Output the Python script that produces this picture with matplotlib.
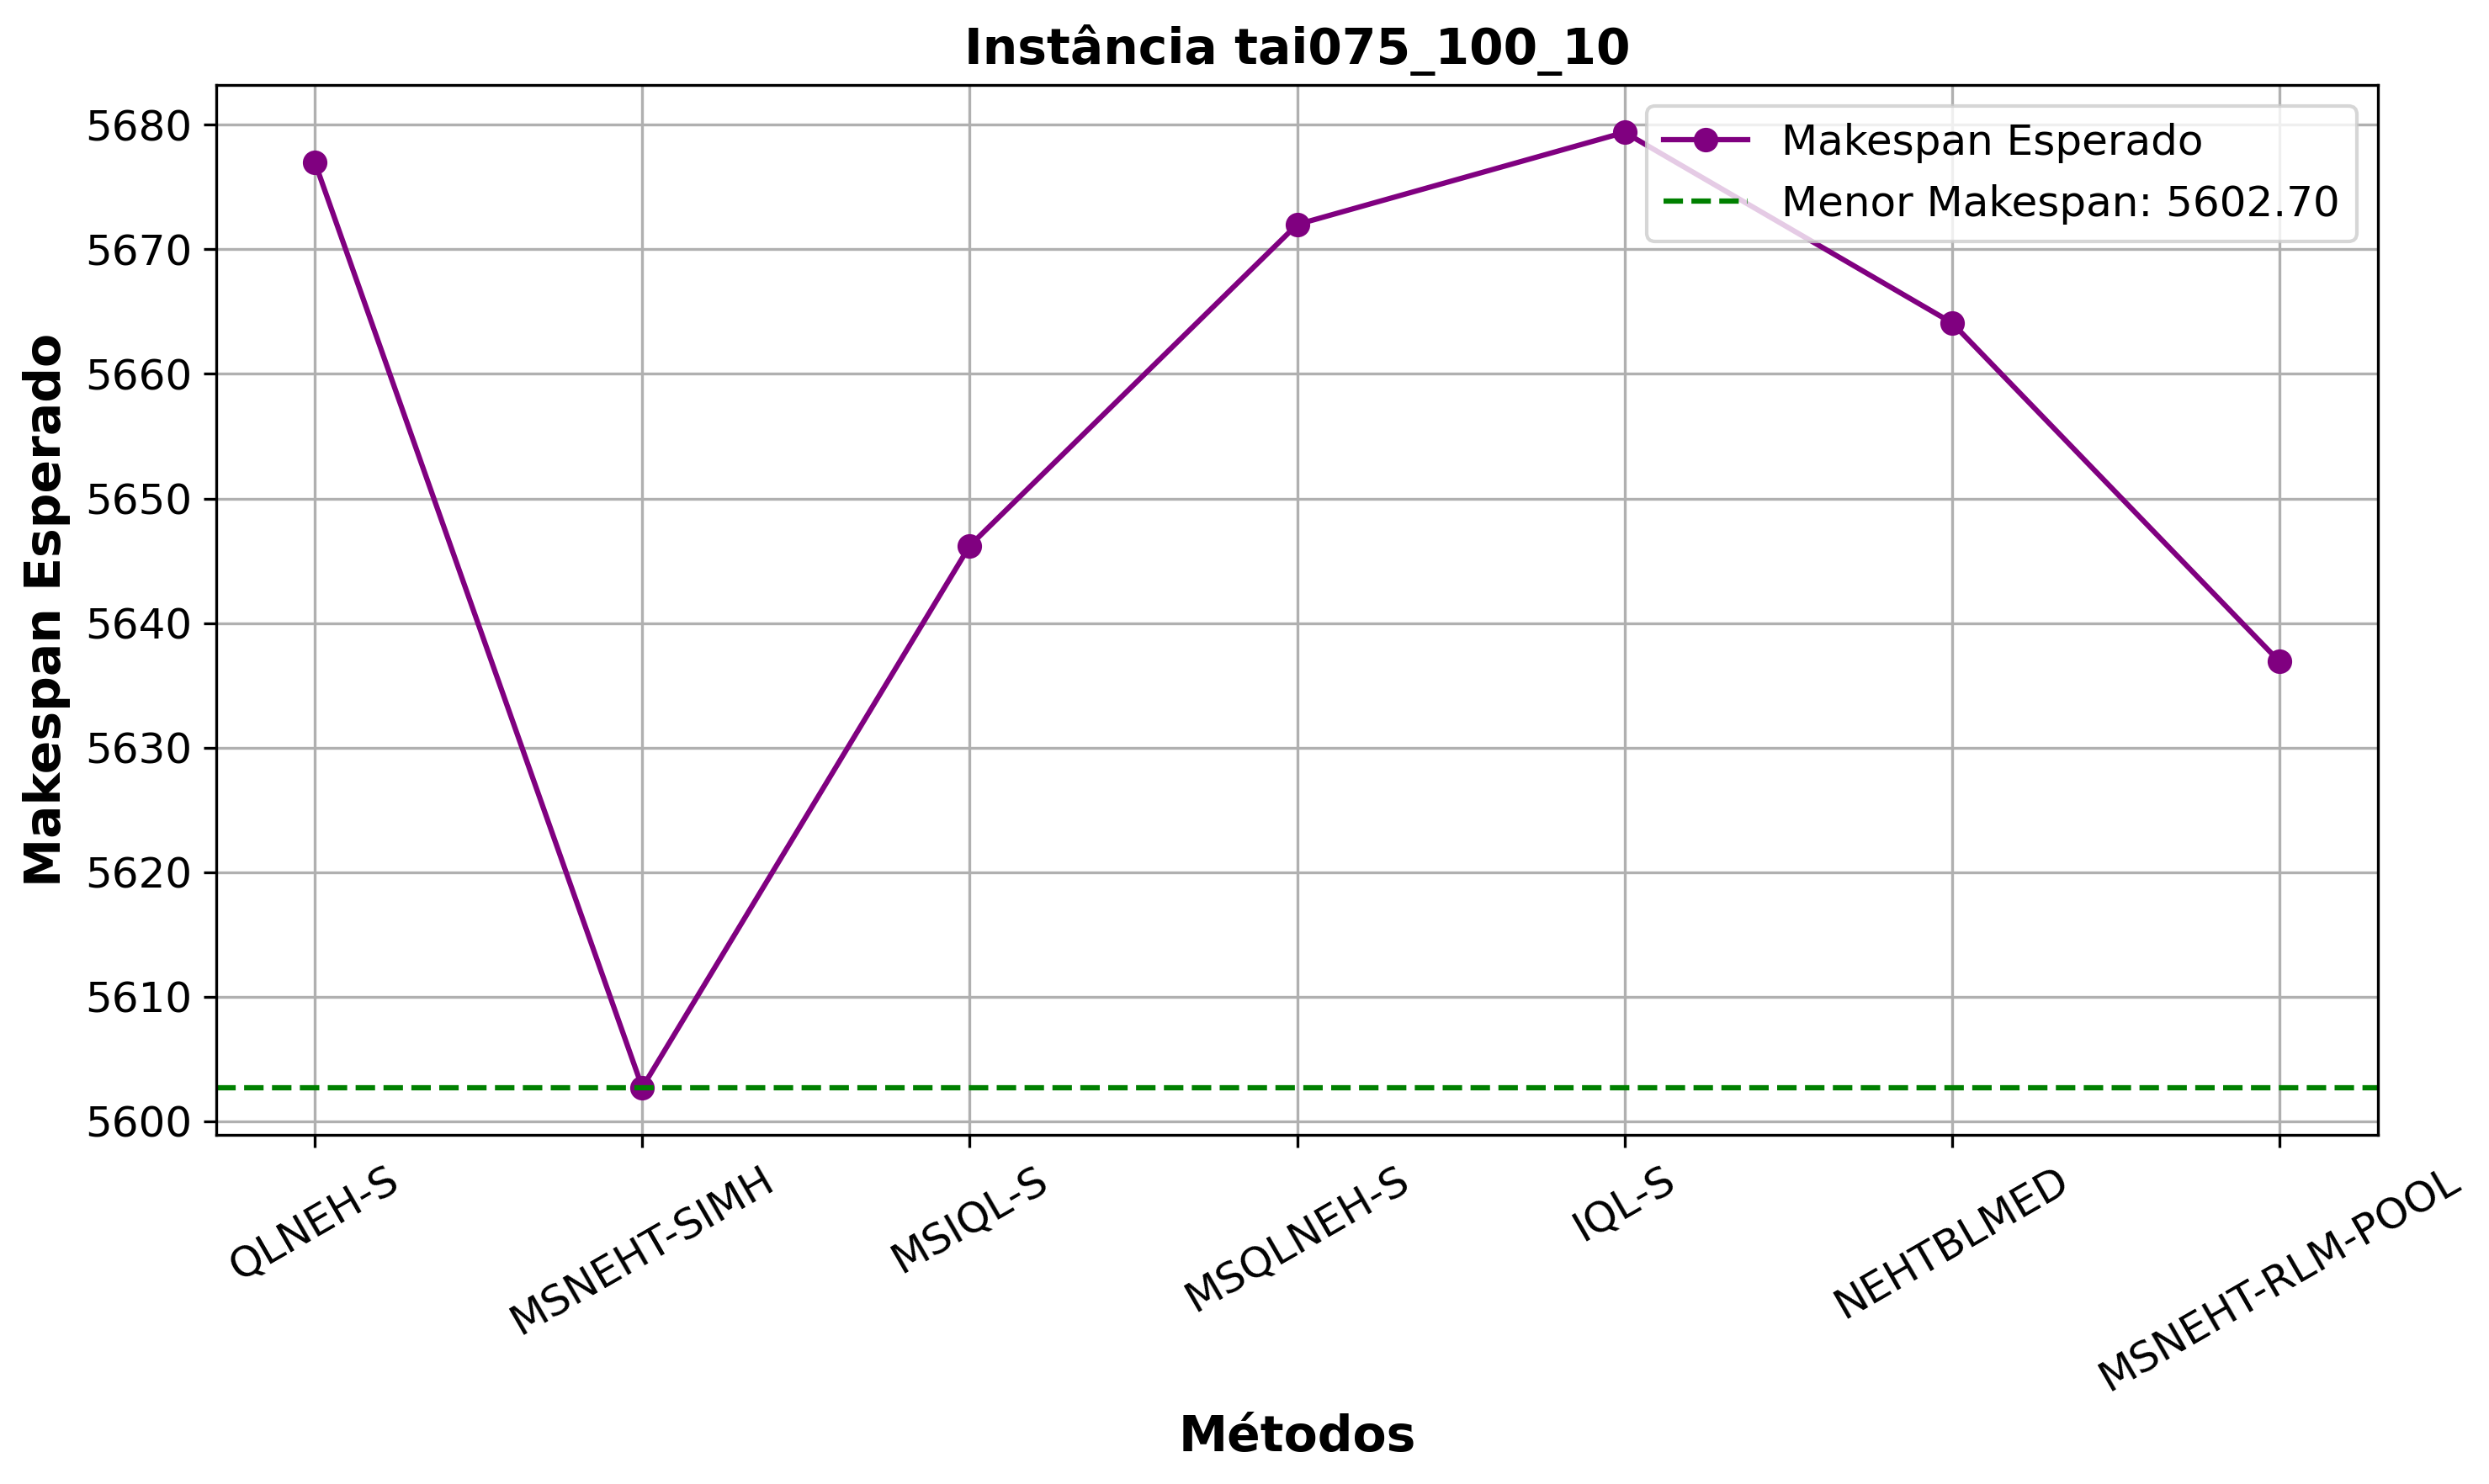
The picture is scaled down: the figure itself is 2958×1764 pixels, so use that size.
import matplotlib
matplotlib.use("Agg")
import matplotlib.pyplot as plt

metodos = ["QLNEH-S", "MSNEHT-SIMH", "MSIQL-S", "MSQLNEH-S", "IQL-S", "NEHTBLMED", "MSNEHT-RLM-POOL"]
makespan = [5677.0, 5602.7, 5646.2, 5672.0, 5679.4, 5664.1, 5636.9]
menor = min(makespan)

fig, ax = plt.subplots(figsize=(9.863, 5.88), dpi=300)
ax.plot(metodos, makespan, marker="o", color="purple", label="Makespan Esperado")
ax.axhline(menor, color="green", linestyle="--", label=f"Menor Makespan: {menor:.2f}")
ax.set_title("Instância tai075_100_10", fontsize=14, fontweight="bold")
ax.set_xlabel("Métodos", fontsize=14, fontweight="bold")
ax.set_ylabel("Makespan Esperado", fontsize=14, fontweight="bold")
ax.tick_params(axis="both", labelsize=12)
plt.setp(ax.get_xticklabels(), rotation=30)
ax.grid(True)
ax.legend(fontsize=12, loc="upper right")
fig.subplots_adjust(left=0.087, right=0.955, top=0.943, bottom=0.235)
fig.savefig("out.png")
